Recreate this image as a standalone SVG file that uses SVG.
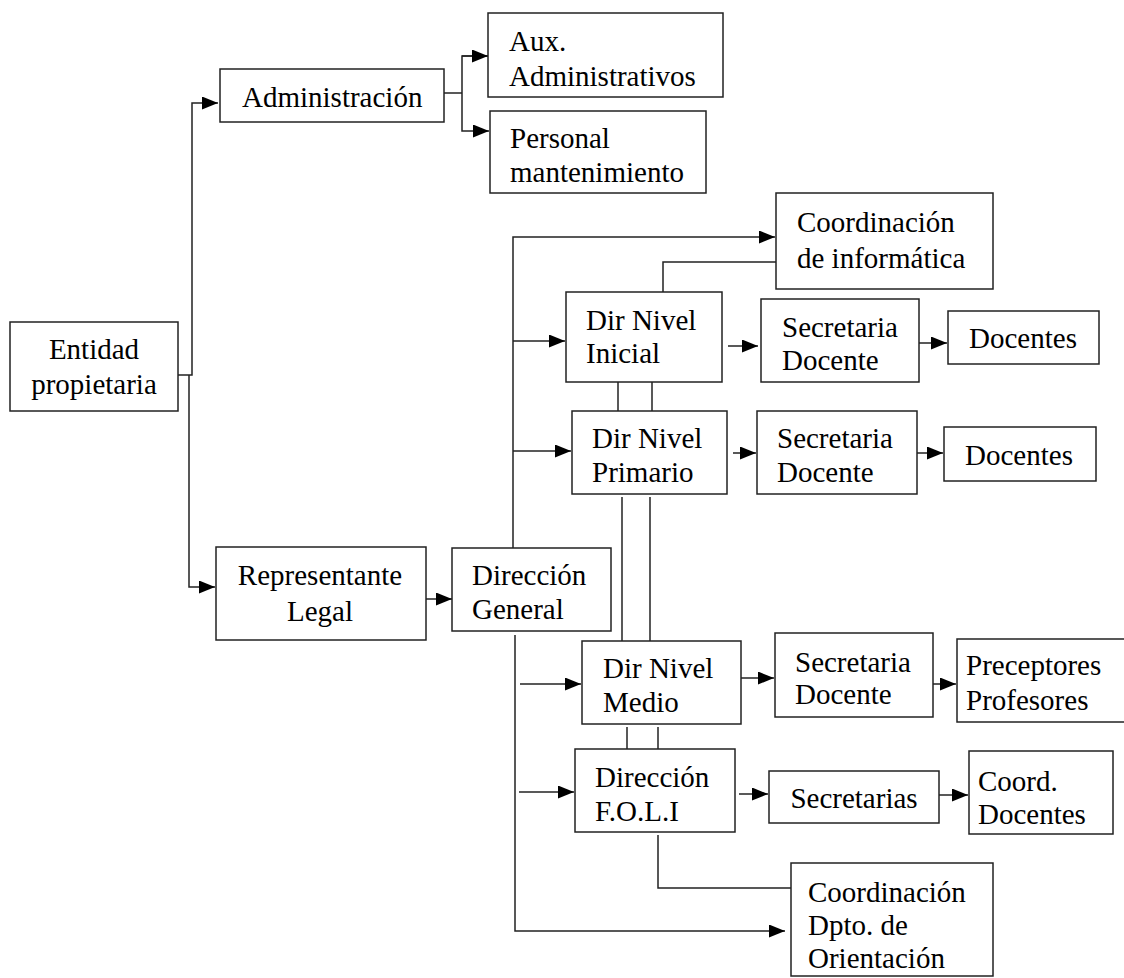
<svg xmlns="http://www.w3.org/2000/svg" width="1124" height="978" viewBox="0 0 1124 978" font-family="Liberation Serif, Times New Roman, DejaVu Serif, serif">
<defs>
<style>
rect{fill:#fff;stroke:#222;stroke-width:1.5}
text{font-family:'Liberation Serif','Times New Roman','DejaVu Serif',serif;font-size:29px;fill:#000}
.c{text-anchor:middle}
#connectors line,#connectors polyline{fill:none;stroke:#222;stroke-width:1.5}
.a{marker-end:url(#arr)}
</style>
<marker id="arr" markerUnits="userSpaceOnUse" markerWidth="17" markerHeight="14" refX="16" refY="6.5" orient="auto">
<path d="M0,0 L16,6.5 L0,13 z" fill="#000"/>
</marker>
</defs>
<rect x="0" y="0" width="1124" height="978" style="fill:#fff;stroke:none"/>
<g id="connectors">
<polyline points="178,375 192,375 192,103 218,103" class="a"/>
<polyline points="189,375 189,587 215,587" class="a"/>
<line x1="444" y1="93" x2="462" y2="93"/>
<polyline points="490,56 462,56 462,131 489,131" class="a"/>
<line x1="462" y1="56" x2="488" y2="56" class="a"/>
<line x1="426" y1="599" x2="452" y2="599" class="a"/>
<polyline points="513,548 513,237 775,237" class="a"/>
<polyline points="663,292 663,262 776,262"/>
<line x1="513" y1="341" x2="565" y2="341" class="a"/>
<line x1="513" y1="451" x2="571" y2="451" class="a"/>
<line x1="728" y1="346" x2="758" y2="346" class="a"/>
<line x1="919" y1="343" x2="947" y2="343" class="a"/>
<line x1="733" y1="453" x2="756" y2="453" class="a"/>
<line x1="917" y1="453" x2="943" y2="453" class="a"/>
<line x1="618" y1="382" x2="618" y2="411"/>
<line x1="652" y1="382" x2="652" y2="411"/>
<line x1="622" y1="497" x2="622" y2="641"/>
<line x1="650" y1="497" x2="650" y2="641"/>
<polyline points="515,635 515,931 785,931" class="a"/>
<line x1="520" y1="684" x2="581" y2="684" class="a"/>
<line x1="741" y1="678" x2="774" y2="678" class="a"/>
<line x1="933" y1="684" x2="956" y2="684" class="a"/>
<line x1="627" y1="727" x2="627" y2="749"/>
<line x1="658" y1="727" x2="658" y2="749"/>
<line x1="519" y1="792" x2="574" y2="792" class="a"/>
<line x1="739" y1="794" x2="768" y2="794" class="a"/>
<line x1="939" y1="795" x2="968" y2="795" class="a"/>
<polyline points="658,835 658,888 791,888"/>
</g>
<g id="entidad"><rect x="10" y="322" width="168" height="89"/><text class="c" x="94" y="359">Entidad</text><text class="c" x="94" y="394">propietaria</text></g>
<g id="administracion"><rect x="220" y="69" width="224" height="53"/><text x="242" y="107">Administración</text></g>
<g id="aux"><rect x="488" y="13" width="235" height="84"/><text x="509" y="51">Aux.</text><text x="509" y="86">Administrativos</text></g>
<g id="personal"><rect x="490" y="111" width="216" height="82"/><text x="510" y="148">Personal</text><text x="510" y="182">mantenimiento</text></g>
<g id="representante"><rect x="216" y="547" width="210" height="93"/><text class="c" x="320" y="585">Representante</text><text class="c" x="320" y="621">Legal</text></g>
<g id="direccion-general"><rect x="452" y="548" width="159" height="83"/><text x="472" y="585">Dirección</text><text x="472" y="619">General</text></g>
<g id="coord-informatica"><rect x="776" y="193" width="217" height="96"/><text x="797" y="232">Coordinación</text><text x="797" y="268">de informática</text></g>
<g id="dir-inicial"><rect x="566" y="292" width="156" height="90"/><text x="586" y="330">Dir Nivel</text><text x="586" y="363">Inicial</text></g>
<g id="sec-inicial"><rect x="761" y="299" width="158" height="83"/><text x="782" y="337">Secretaria</text><text x="782" y="370">Docente</text></g>
<g id="docentes-inicial"><rect x="948" y="311" width="151" height="53"/><text class="c" x="1023" y="348">Docentes</text></g>
<g id="dir-primario"><rect x="572" y="411" width="155" height="83"/><text x="592" y="448">Dir Nivel</text><text x="592" y="482">Primario</text></g>
<g id="sec-primario"><rect x="757" y="411" width="160" height="83"/><text x="777" y="448">Secretaria</text><text x="777" y="482">Docente</text></g>
<g id="docentes-primario"><rect x="944" y="427" width="152" height="54"/><text class="c" x="1019" y="465">Docentes</text></g>
<g id="dir-medio"><rect x="582" y="641" width="159" height="83"/><text x="603" y="678">Dir Nivel</text><text x="603" y="712">Medio</text></g>
<g id="sec-medio"><rect x="775" y="633" width="158" height="84"/><text x="795" y="672">Secretaria</text><text x="795" y="704">Docente</text></g>
<g id="preceptores"><rect x="957" y="639" width="180" height="83"/><text x="966" y="675">Preceptores</text><text x="966" y="710">Profesores</text></g>
<g id="dir-foli"><rect x="575" y="749" width="160" height="83"/><text x="595" y="787">Dirección</text><text x="595" y="821">F.O.L.I</text></g>
<g id="secretarias"><rect x="769" y="771" width="170" height="52"/><text class="c" x="854" y="808">Secretarias</text></g>
<g id="coord-docentes"><rect x="969" y="751" width="144" height="83"/><text x="978" y="791">Coord.</text><text x="978" y="824">Docentes</text></g>
<g id="coord-orientacion"><rect x="791" y="863" width="202" height="113"/><text x="808" y="902">Coordinación</text><text x="808" y="935">Dpto. de</text><text x="808" y="968">Orientación</text></g>
</svg>
